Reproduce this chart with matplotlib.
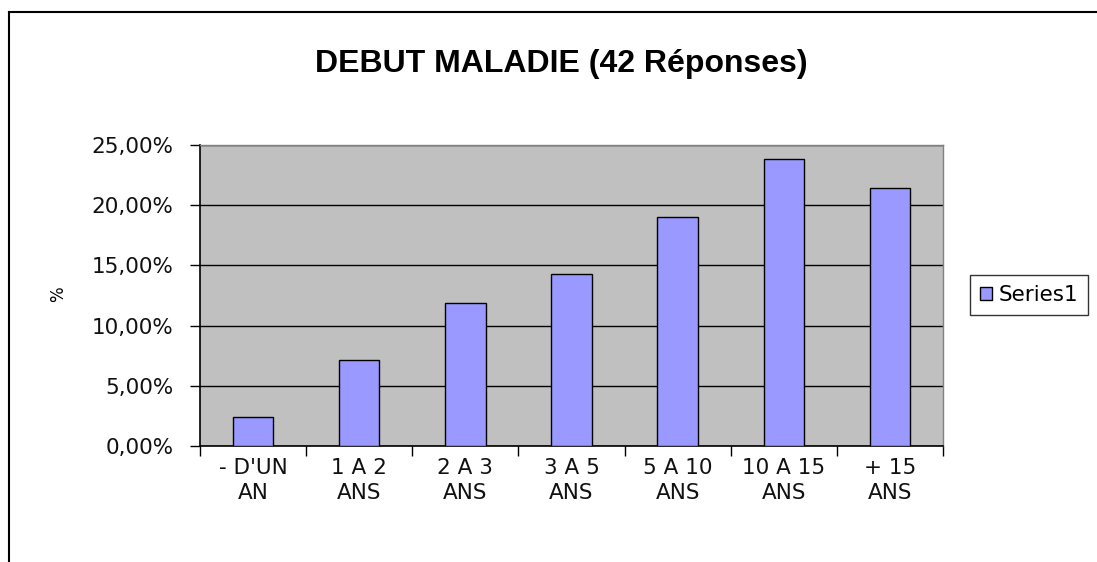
import matplotlib
matplotlib.use("Agg")
import matplotlib.pyplot as plt
from matplotlib.lines import Line2D
from matplotlib.patches import Patch
import numpy as np

categories = ["- D'UN\nAN", "1 A 2\nANS", "2 A 3\nANS", "3 A 5\nANS", "5 A 10\nANS", "10 A 15\nANS", "+ 15\nANS"]
values = [2.38, 7.14, 11.90, 14.29, 19.05, 23.81, 21.43]
yticks = [0, 5, 10, 15, 20, 25]
ytick_labels = ["0,00%", "5,00%", "10,00%", "15,00%", "20,00%", "25,00%"]
series_name = "Series1"
title = "DEBUT MALADIE (42 Réponses)"

plt.rcParams['font.family'] = ['DejaVu Sans']

W, H = 1097, 562
fig = plt.figure(figsize=(W/100, H/100), dpi=100)
fig.patch.set_facecolor('white')

# outer chart frame
fig.add_artist(Line2D([9/W, 9/W], [0, 1 - 12/H], color='black', lw=1.5, transform=fig.transFigure))
fig.add_artist(Line2D([9/W, 1], [1 - 12/H, 1 - 12/H], color='black', lw=1.5, transform=fig.transFigure))

left, right, top, bottom = 200, 943, 145, 446
ax = fig.add_axes([left/W, 1 - bottom/H, (right-left)/W, (bottom-top)/H])
ax.set_facecolor('#C0C0C0')

x = np.arange(len(categories))
ax.bar(x, values, width=0.38, color='#9999FF', edgecolor='black', linewidth=1, zorder=3, label=series_name)

ax.set_xlim(-0.5, len(categories) - 0.5)
ax.set_ylim(0, 25)
ax.set_yticks(yticks)
ax.set_yticklabels(ytick_labels, fontsize=15.5, color='#111111')
ax.yaxis.grid(True, color='black', linewidth=1, zorder=1)
ax.set_axisbelow(True)

ax.set_xticks(np.arange(-0.5, len(categories), 1.0))
ax.set_xticklabels([])
ax.set_xticks(x, minor=True)
ax.set_xticklabels(categories, minor=True, fontsize=15.5, linespacing=1.3, color='#111111')
ax.tick_params(axis='x', which='major', length=7, width=1, color='black', direction='out')
ax.tick_params(axis='x', which='minor', length=0, pad=9)
ax.tick_params(axis='y', length=7, width=1, direction='out', pad=12)

for s in ['top', 'right']:
    ax.spines[s].set_color('#808080')
    ax.spines[s].set_linewidth(1)
for s in ['left', 'bottom']:
    ax.spines[s].set_color('black')
    ax.spines[s].set_linewidth(1.2)

fig.text(58/W, 1 - 294/H, "%", rotation=90, fontsize=12, ha='center', va='center')
fig.text(561/W, 1 - 72/H, title, fontsize=23, fontweight='bold', ha='center', va='baseline',
         family=['Liberation Sans', 'DejaVu Sans'])

handle = Patch(facecolor='#9999FF', edgecolor='black', label=series_name)
leg = fig.legend(handles=[handle], loc='center', bbox_to_anchor=(1029/W, 1 - 295/H),
                 fontsize=15.5, frameon=True, fancybox=False, edgecolor='black',
                 handlelength=0.6, handleheight=0.6, handletextpad=0.3, borderpad=0.45,
                 borderaxespad=0)
leg.get_frame().set_linewidth(1)

fig.savefig("out.png", dpi=100)
